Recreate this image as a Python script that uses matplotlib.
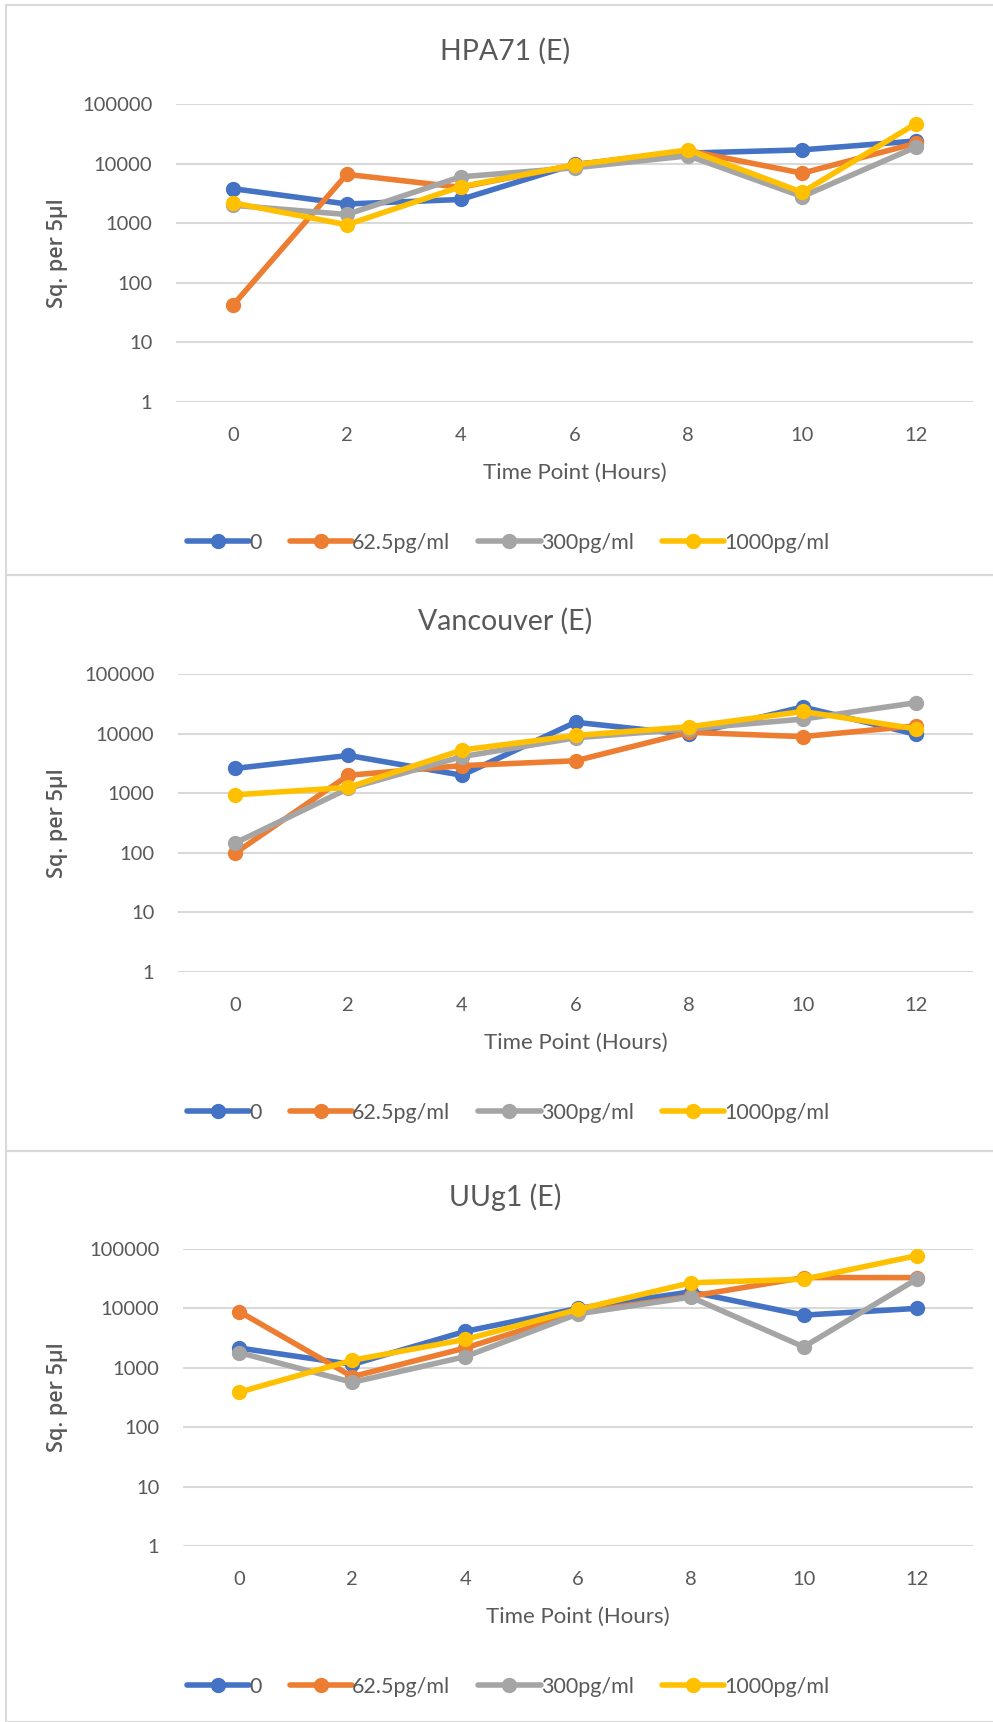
import numpy as np
import matplotlib.pyplot as plt
from matplotlib.patches import Rectangle
from matplotlib.ticker import FixedLocator, FixedFormatter

# datos
horas = ["0", "2", "4", "6", "8", "10", "12"]
series = ["0", "62.5pg/ml", "300pg/ml", "1000pg/ml"]
colores = ["#4472C4", "#ED7D31", "#A5A5A5", "#FFC000"]

hpa71_0 = [3800, 2100, 2500, 9700, 15000, 17000, 24000]
hpa71_625 = [42, 6600, 4000, 9500, 16500, 6900, 22000]
hpa71_300 = [2000, 1400, 6000, 8500, 13500, 2800, 19000]
hpa71_1000 = [2200, 940, 4100, 9500, 17000, 3300, 47000]

vanc_0 = [2600, 4300, 2000, 15500, 9700, 28000, 9700]
vanc_625 = [98, 2000, 2900, 3500, 10500, 8900, 13500]
vanc_300 = [145, 1200, 4100, 8500, 12000, 17500, 33000]
vanc_1000 = [940, 1250, 5300, 9300, 13000, 23500, 12000]

uug1_0 = [2150, 1140, 4100, 10000, 19000, 7700, 10000]
uug1_625 = [8800, 710, 2150, 8500, 16000, 33000, 33000]
uug1_300 = [1800, 570, 1540, 8100, 15500, 2250, 31000]
uug1_1000 = [390, 1340, 3000, 9600, 27000, 31000, 77000]

titulos = ["HPA71 (E)", "Vancouver (E)", "UUg1 (E)"]
datos = [
    [hpa71_0, hpa71_625, hpa71_300, hpa71_1000],
    [vanc_0, vanc_625, vanc_300, vanc_1000],
    [uug1_0, uug1_625, uug1_300, uug1_1000],
]
y_ticks = [1, 10, 100, 1000, 10000, 100000]

W, H = 993, 1722
TEXTO = "#595959"
FUENTE = ["Lato", "DejaVu Sans"]

fig = plt.figure(figsize=(W / 100, H / 100), dpi=100)

# (top panel, grid 100000, grid 1, x izquierda, x derecha, bottom panel)
paneles = [
    (5, 104, 402, 176, 973, 575),
    (575, 674, 972, 178, 973, 1151),
    (1151, 1249, 1546, 183, 973, 1722),
]


def px_a_fig(x, y):
    return x / W, 1 - y / H


for i, (p_top, g_top, g_bot, x_izq, x_der, p_bot) in enumerate(paneles):
    # borde del panel
    fig.patches.append(Rectangle((6 / W, 1 - p_bot / H), 1.0, (p_bot - p_top) / H,
                                 transform=fig.transFigure, fill=False,
                                 edgecolor="#D9D9D9", linewidth=1.5))

    ax = fig.add_axes([x_izq / W, 1 - g_bot / H, (x_der - x_izq) / W, (g_bot - g_top) / H])
    x = np.arange(len(horas))
    lineas = []
    for j, nombre in enumerate(series):
        l, = ax.plot(x, datos[i][j], color=colores[j], linewidth=4, marker="o",
                     markersize=10, label=nombre, solid_capstyle="round")
        lineas.append(l)
    ax.set_yscale("log")
    ax.set_ylim(1, 100000)
    ax.set_xlim(-0.5, len(horas) - 0.5)
    ax.yaxis.set_major_locator(FixedLocator(y_ticks))
    ax.yaxis.set_major_formatter(FixedFormatter([str(v) for v in y_ticks]))
    ax.yaxis.set_minor_locator(FixedLocator([]))
    ax.set_xticks(x)
    ax.set_xticklabels(horas)
    ax.grid(axis="y", color="#D9D9D9", linewidth=1.5)
    ax.set_axisbelow(True)
    for s in ax.spines.values():
        s.set_visible(False)
    ax.tick_params(length=0, labelsize=14.5, colors=TEXTO)
    ax.tick_params(axis="y", pad=17)
    ax.tick_params(axis="x", pad=18)
    for lbl in ax.get_xticklabels() + ax.get_yticklabels():
        lbl.set_family(FUENTE)

    cx = (x_izq + x_der) / 2
    fig.text(*px_a_fig(505, p_top + 46), titulos[i],
             ha="center", va="center", fontsize=20.5, color=TEXTO, family=FUENTE)
    fig.text(*px_a_fig(cx, g_bot + 71), "Time Point (Hours)", ha="center",
             va="center", fontsize=16, color=TEXTO, family=FUENTE)
    fig.text(*px_a_fig(57, (g_top + g_bot) / 2), "Sq. per 5µl", rotation=90,
             ha="center", va="center", fontsize=15.5, color=TEXTO,
             family=["Open Sans", "DejaVu Sans"], fontweight="semibold")

    # eje invisible solo para la leyenda
    ley_y = g_bot + 141
    ax_ley = fig.add_axes([0, 1 - (ley_y + 15) / H, 1016 / W, 30 / H])
    ax_ley.axis("off")
    leg = ax_ley.legend(lineas, series, loc="center", ncol=4, frameon=False,
                        handlelength=2.9, handletextpad=0.0, borderaxespad=0,
                        columnspacing=1.3, prop={"family": FUENTE, "size": 15.5})
    for t in leg.get_texts():
        t.set_color(TEXTO)

fig.savefig("out.png", dpi=100, facecolor="white")
